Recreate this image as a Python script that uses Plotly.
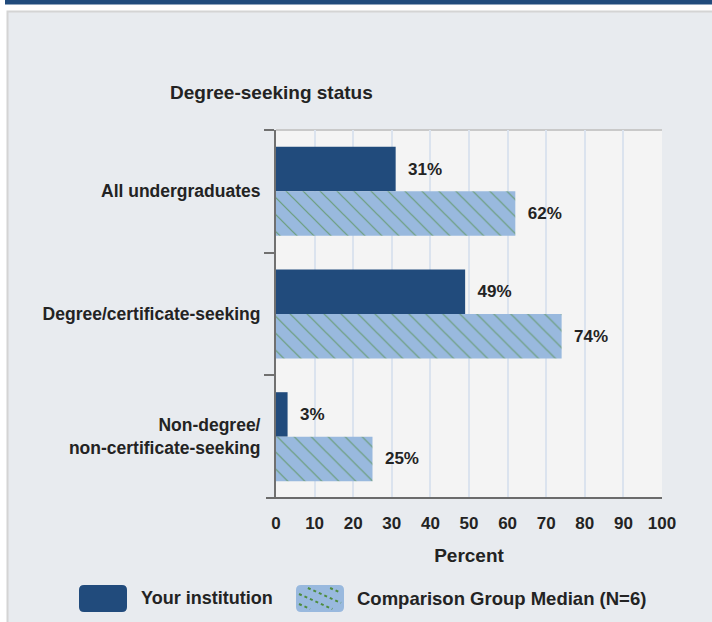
import plotly.graph_objects as go

# ---------------- data ----------------
categories = ["All undergraduates", "Degree/certificate-seeking",
              "Non-degree/<br>non-certificate-seeking"]
your_institution = [31, 49, 3]
comparison_median = [62, 74, 25]
series_names = ["Your institution", "Comparison Group Median (N=6)"]
x_tick_values = [0, 10, 20, 30, 40, 50, 60, 70, 80, 90, 100]
chart_title = "Degree-seeking status"
x_title = "Percent"

# ---------------- style ----------------
W, H = 712, 622
L, R, T, B = 276, 50, 130, 124
PW, PH = W - L - R, H - T - B
BOTTOM = H - B

DARK = "#214b7c"
LIGHT = "#99b9de"
GREEN = "#4e8c3e"
TEXT = "#232323"
FONT = "Liberation Sans, Arial, sans-serif"


def fx(x):
    return (x - L) / PW


def fy(y):
    return (BOTTOM - y) / PH


def rounded_rect(x0, y0, x1, y1, r=5):
    rx, ry = r / PW, r / PH
    X0, X1 = fx(x0), fx(x1)
    Y0, Y1 = fy(y0), fy(y1)  # Y0 top (larger), Y1 bottom
    return (f"M {X0+rx},{Y0} L {X1-rx},{Y0} Q {X1},{Y0} {X1},{Y0-ry} "
            f"L {X1},{Y1+ry} Q {X1},{Y1} {X1-rx},{Y1} L {X0+rx},{Y1} "
            f"Q {X0},{Y1} {X0},{Y1+ry} L {X0},{Y0-ry} Q {X0},{Y0} {X0+rx},{Y0} Z")


fig = go.Figure()

fig.add_trace(go.Bar(
    y=categories, x=your_institution, orientation="h", name=series_names[0],
    marker=dict(color=DARK, line=dict(width=0)),
    texttemplate="\u00a0\u00a0%{x}%", textposition="outside",
    textfont=dict(family=FONT, size=17, color=TEXT, weight="bold"),
    constraintext="none", cliponaxis=False, showlegend=False,
))
fig.add_trace(go.Bar(
    y=categories, x=comparison_median, orientation="h", name=series_names[1],
    marker=dict(color=LIGHT, line=dict(width=0),
                pattern=dict(shape="\\", fgcolor=GREEN, size=12, solidity=0.1,
                             fillmode="overlay", fgopacity=0.65)),
    texttemplate="\u00a0\u00a0%{x}%", textposition="outside",
    textfont=dict(family=FONT, size=17, color=TEXT, weight="bold"),
    constraintext="none", cliponaxis=False, showlegend=False,
))

shapes = []
# top dark band
shapes.append(dict(type="rect", xref="paper", yref="paper", layer="below",
                   x0=fx(5), x1=fx(W + 5), y0=fy(0), y1=fy(4.5),
                   fillcolor=DARK, line=dict(width=0)))
# panel
shapes.append(dict(type="rect", xref="paper", yref="paper", layer="below",
                   x0=fx(7.5), x1=fx(W + 10), y0=fy(11.5), y1=fy(H + 10),
                   fillcolor="#e8ebef", line=dict(color="#d4d4d4", width=2)))
# plot background
shapes.append(dict(type="rect", xref="paper", yref="paper", layer="below",
                   x0=0, x1=1, y0=0, y1=1,
                   fillcolor="#f4f4f4", line=dict(width=0)))
# top border of plot area
shapes.append(dict(type="line", xref="paper", yref="paper", layer="below",
                   x0=0, x1=1, y0=1, y1=1, line=dict(color="#c9c9c9", width=2)))
# bottom axis line
shapes.append(dict(type="line", xref="paper", yref="paper", layer="above",
                   x0=fx(266), x1=fx(662), y0=0, y1=0,
                   line=dict(color="#6b6b6b", width=2)))

# legend swatches
sw1 = (79, 585, 127, 612)
sw2 = (296, 585, 344, 612)
shapes.append(dict(type="path", xref="paper", yref="paper", path=rounded_rect(*sw1),
                   fillcolor=DARK, line=dict(width=0)))
shapes.append(dict(type="path", xref="paper", yref="paper", path=rounded_rect(*sw2),
                   fillcolor=LIGHT, line=dict(width=0)))
# dotted diagonal hatch inside swatch 2
x0s, y0s, x1s, y1s = sw2[0] + 3, sw2[1] + 3, sw2[2] - 3, sw2[3] - 3
slope = 0.45
for start in [y0s - 14, y0s - 4, y0s + 6, y0s + 16]:
    xa, ya = x0s, start
    if ya < y0s:
        xa = x0s + (y0s - start) / slope
        ya = y0s
    xb = x1s
    yb = start + slope * (x1s - x0s)
    if yb > y1s:
        xb = x0s + (y1s - start) / slope
        yb = y1s
    if xb - xa > 4:
        shapes.append(dict(type="line", xref="paper", yref="paper",
                           x0=fx(xa), y0=fy(ya), x1=fx(xb), y1=fy(yb),
                           line=dict(color=GREEN, width=2, dash="dot")))

annotations = [
    dict(text=chart_title, xref="paper", yref="paper", x=fx(168), y=fy(92),
         xanchor="left", yanchor="middle", showarrow=False,
         font=dict(family=FONT, size=19, color=TEXT, weight="bold")),
    dict(text=series_names[0], xref="paper", yref="paper", x=fx(139), y=fy(598),
         xanchor="left", yanchor="middle", showarrow=False,
         font=dict(family=FONT, size=18, color=TEXT, weight="bold")),
    dict(text=series_names[1], xref="paper", yref="paper", x=fx(355), y=fy(598),
         xanchor="left", yanchor="middle", showarrow=False,
         font=dict(family=FONT, size=18.5, color=TEXT, weight="bold")),
]

fig.update_layout(
    width=W, height=H,
    margin=dict(l=L, r=R, t=T, b=B, pad=0),
    paper_bgcolor="white", plot_bgcolor="rgba(0,0,0,0)",
    barmode="group", bargap=0.275, bargroupgap=0,
    shapes=shapes, annotations=annotations,
    showlegend=False,
    font=dict(family=FONT, color=TEXT),
)
fig.update_xaxes(
    range=[0, 100], tickvals=x_tick_values, ticktext=[str(v) for v in x_tick_values],
    showgrid=True, gridcolor="#dbe3ee", gridwidth=2, zeroline=False, showline=False,
    ticks="outside", ticklen=10, tickcolor="rgba(0,0,0,0)",
    tickfont=dict(family=FONT, size=17, color=TEXT, weight="bold"),
    title=dict(text=x_title, standoff=16,
               font=dict(family=FONT, size=19, color=TEXT, weight="bold")),
    fixedrange=True,
)
fig.update_yaxes(
    type="category", categoryorder="array", categoryarray=categories,
    autorange="reversed", showgrid=False, zeroline=False,
    showline=True, linecolor="#707070", linewidth=2,
    ticks="outside", tickson="boundaries", ticklen=10, tickcolor="#707070", tickwidth=2,
    ticklabelstandoff=10,
    tickfont=dict(family=FONT, size=17.5, color=TEXT, weight="bold"),
    fixedrange=True,
)

fig.write_html("out.html", config={"displayModeBar": False},
               post_script="document.body.style.margin='0';")
